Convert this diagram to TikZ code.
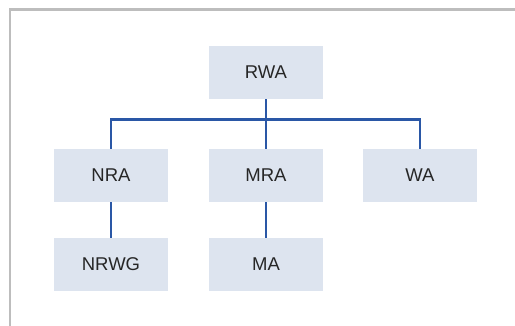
\documentclass[tikz,border=0pt]{standalone}
\usepackage{fontspec}
\setmainfont{Liberation Sans}
\definecolor{boxfill}{HTML}{DDE4EF}
\definecolor{linkblue}{HTML}{2A57A6}
\definecolor{framegray}{HTML}{BDBDBD}
\definecolor{txt}{HTML}{262626}
\tikzset{
  orgbox/.style={fill=boxfill, draw=none, minimum width=114pt, minimum height=53pt, inner sep=0pt, font=\fontsize{18.5}{21}\selectfont, text=txt},
  link/.style={draw=linkblue, line width=2.6pt}
}
\begin{document}
\begin{tikzpicture}[x=1pt,y=-1pt]
\useasboundingbox (0,0) rectangle (515,326);
\fill[white] (0,0) rectangle (515,326);
\draw[framegray, line width=2.5pt] (10,340) -- (10,9.5) -- (530,9.5);
\node[orgbox] (RWA) at (266,72.5) {RWA};
\node[orgbox] (NRA) at (111,175.5) {NRA};
\node[orgbox] (MRA) at (266,175.5) {MRA};
\node[orgbox] (WA) at (420,175.5) {WA};
\node[orgbox] (NRWG) at (111,264.5) {NRWG};
\node[orgbox] (MA) at (266,264.5) {MA};
\coordinate (bus) at (266,119.5);
\draw[link] (NRA.north) |- (bus) -| (WA.north);
\draw[link] (RWA.south) -- (MRA.north);
\draw[link] (NRA.south) -- (NRWG.north);
\draw[link] (MRA.south) -- (MA.north);
\end{tikzpicture}
\end{document}
